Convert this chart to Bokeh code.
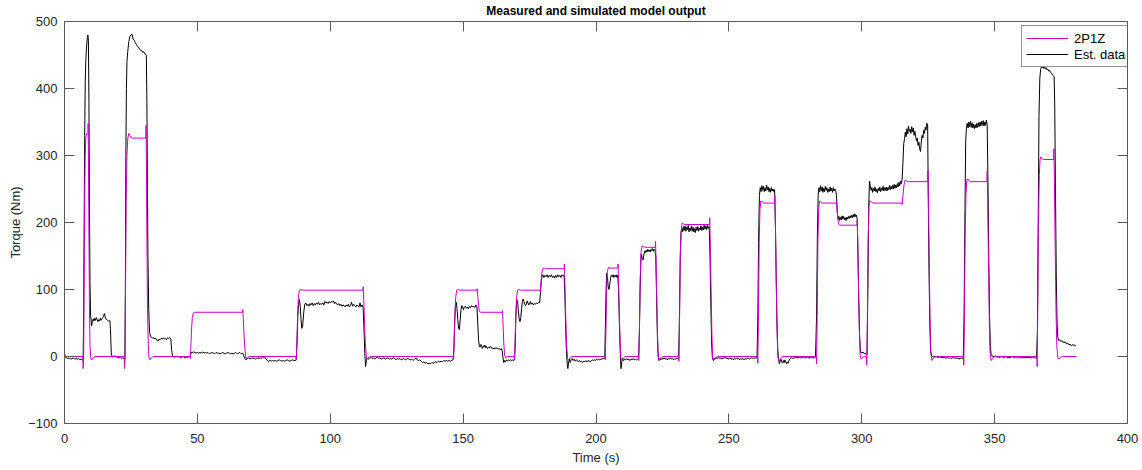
from bokeh.plotting import figure
from bokeh.models import Range1d, LinearAxis, FixedTicker, Legend, LegendItem, CustomJSTickFormatter
from bokeh.embed import file_html
from bokeh.resources import INLINE

# ---------------- data ----------------
x_ticks = [0, 50, 100, 150, 200, 250, 300, 350, 400]
y_ticks = [-100, 0, 100, 200, 300, 400, 500]
title_text = "Measured and simulated model output"
x_label = "Time (s)"
y_label = "Torque (Nm)"
series_names = ["2P1Z", "Est. data"]

# simulated model output (2P1Z): (time, torque)
sim_a = [(0, 4), (0.3, 0), (6.9, 0), (7.0, -18), (7.2, -5), (7.4, 120), (7.6, 240), (7.8, 300), (8.0, 325), (8.3, 333),
         (8.6, 332), (8.85, 333), (8.9, 348), (9.0, 300), (9.2, 180), (9.4, 70), (9.6, 15), (9.9, -3), (10.3, -5), (10.8, -2), (11.5, 0),
         (22.5, 0), (22.6, -18), (22.8, -5), (23.0, 120), (23.2, 230), (23.5, 300), (23.8, 325), (24.2, 333), (24.6, 330), (25.0, 327),
         (25.5, 326), (30.6, 326), (30.7, 345), (30.8, 300), (31.0, 180), (31.2, 80), (31.5, 20), (31.8, -2), (32.2, -5), (32.7, -2), (33.5, 0),
         (47.2, 0), (47.3, -3), (47.5, 10), (47.8, 40), (48.1, 58), (48.5, 65), (49.0, 66), (67.0, 66), (67.1, 70), (67.3, 55), (67.6, 30),
         (67.9, 10), (68.3, -3), (68.8, -2), (69.5, 0),
         (87.1, 0), (87.2, -4), (87.4, 15), (87.7, 60), (88.0, 88), (88.4, 99), (88.9, 100), (89.5, 99), (112.3, 99), (112.4, 104),
         (112.6, 85), (112.9, 50), (113.2, 20), (113.6, -2), (114.0, -3), (114.6, -1), (115.5, 0)]
sim_b = [(146.3, 0), (146.4, -4), (146.6, 15), (146.9, 60), (147.2, 88), (147.6, 99), (148.1, 100), (148.7, 99), (155.2, 99),
         (155.3, 101), (155.5, 92), (155.8, 76), (156.1, 68), (156.5, 66), (164.7, 66), (164.8, 69), (165.0, 50), (165.3, 20), (165.6, 2),
         (166.0, -2), (166.6, 0),
         (169.2, 0), (169.3, -4), (169.5, 15), (169.8, 60), (170.1, 88), (170.5, 99), (171.0, 100), (171.6, 99), (178.9, 99), (179.0, 97),
         (179.3, 110), (179.6, 124), (180.0, 131), (180.5, 132), (181.0, 131), (188.0, 131), (188.1, 138), (188.3, 110), (188.6, 60),
         (188.9, 20), (189.3, -3), (189.7, -5), (190.3, -2), (191.0, 0),
         (203.4, 0), (203.5, -5), (203.7, 30), (204.0, 100), (204.3, 128), (204.7, 133), (205.2, 132), (208.2, 132), (208.3, 138),
         (208.5, 110), (208.8, 60), (209.1, 20), (209.4, -3), (209.8, -5), (210.4, -2), (211.0, 0),
         (216.0, 0), (216.1, -6), (216.3, 30), (216.6, 110), (216.9, 155), (217.3, 165), (217.8, 164), (218.5, 163), (222.3, 163),
         (222.4, 172), (222.6, 140), (222.9, 80), (223.2, 25), (223.5, -3), (223.9, -5), (224.5, -2), (225.2, 0),
         (231.1, 0), (231.2, -7), (231.4, 40), (231.7, 140), (232.0, 185), (232.4, 199), (232.9, 198), (233.5, 197), (242.7, 197),
         (242.8, 207), (243.0, 170), (243.3, 100), (243.6, 35), (243.9, -3), (244.3, -6), (244.9, -2), (245.6, 0)]
sim_c = [(260.8, 0), (260.9, -10), (261.1, 50), (261.4, 170), (261.7, 220), (262.0, 232), (262.5, 231), (263.2, 229), (267.2, 229),
         (267.3, 240), (267.5, 200), (267.8, 120), (268.1, 45), (268.4, 0), (268.8, -7), (269.4, -3), (270.2, 0),
         (282.9, 0), (283.0, -11), (283.2, 50), (283.5, 170), (283.8, 220), (284.1, 232), (284.6, 231), (285.3, 229), (290.4, 229),
         (290.5, 232), (290.7, 222), (291.0, 205), (291.4, 197), (291.8, 196), (298.2, 196), (298.3, 204), (298.5, 170), (298.8, 100),
         (299.1, 40), (299.4, 2), (299.8, -4), (300.4, -1), (301.0, 0), (301.8, 0), (301.9, -13), (302.1, 50), (302.4, 170), (302.7, 222),
         (303.0, 233), (303.5, 231), (304.2, 229), (315.1, 229), (315.2, 227), (315.5, 240), (315.9, 256), (316.3, 263), (316.8, 262),
         (317.5, 261), (324.8, 261), (324.9, 277), (325.1, 230), (325.4, 140), (325.7, 55), (326.0, 5), (326.4, -6), (327.0, -2), (327.8, 0),
         (338.3, 0), (338.4, -13), (338.6, 50), (338.9, 180), (339.2, 240), (339.5, 262), (339.9, 265), (340.5, 262), (341.2, 261),
         (347.1, 261), (347.2, 277), (347.4, 230), (347.7, 140), (348.0, 55), (348.3, 5), (348.7, -6), (349.3, -2), (350.1, 0),
         (365.9, 0), (366.0, -15), (366.2, 60), (366.5, 200), (366.8, 270), (367.1, 294), (367.4, 298), (367.9, 295), (368.6, 294),
         (372.2, 294), (372.3, 310), (372.5, 260), (372.8, 160), (373.1, 70), (373.4, 15), (373.8, -2), (374.2, -4), (374.8, -1),
         (375.6, 0), (380.8, 0)]

# measured (estimation) data: (time, torque)
est_a = [(0, 4), (0.3, -1), (0.8, -2), (1.3, -3), (1.8, -2), (2.3, -4), (2.8, -3), (3.3, -2), (3.8, -4), (4.3, -3), (4.8, -4),
         (5.3, -3), (5.8, -5), (6.3, -4), (6.8, -5), (7.0, -6),
         (7.2, 60), (7.4, 200), (7.6, 330), (7.8, 410), (8.0, 440), (8.3, 462), (8.6, 476), (8.8, 480), (9.0, 472), (9.2, 380),
         (9.4, 220), (9.6, 110), (9.8, 62), (10.0, 56), (10.2, 46), (10.5, 52), (10.8, 56), (11.1, 53), (11.4, 57), (11.7, 54),
         (12.0, 58), (12.3, 55), (12.6, 52), (12.9, 55), (13.2, 53), (13.5, 57), (13.8, 54), (14.1, 56), (14.4, 58), (14.7, 60),
         (15.0, 64), (15.3, 59), (15.6, 56), (15.9, 55), (16.2, 54), (16.5, 53), (16.8, 54), (17.1, 53), (17.3, 40), (17.6, 5),
         (17.9, 0), (18.3, -1), (18.8, 1), (19.3, 0), (19.8, -1), (20.3, -2), (20.8, -1), (21.3, -3), (21.8, -2), (22.3, -3), (22.7, -4),
         (22.9, 100), (23.1, 300), (23.3, 400), (23.5, 440), (23.8, 455), (24.2, 470), (24.6, 478), (25.0, 480), (25.4, 481),
         (25.8, 474), (26.2, 472), (26.6, 469), (27.0, 466), (27.4, 463), (27.8, 462), (28.2, 459), (28.6, 457), (29.0, 457),
         (29.4, 454), (29.8, 455), (30.2, 452), (30.6, 451), (30.8, 449), (31.0, 380), (31.2, 260), (31.4, 150), (31.7, 70),
         (32.0, 36), (32.4, 30), (32.8, 29), (33.2, 27), (33.6, 28), (34.0, 26), (34.4, 27), (34.8, 24), (35.2, 23), (35.6, 26),
         (36.0, 25), (36.4, 27), (36.8, 26), (37.2, 28), (37.6, 26), (38.0, 27), (38.4, 25), (38.8, 28), (39.2, 27), (39.6, 28),
         (40.0, 27), (40.3, 10), (40.6, 2), (41.0, 0), (41.5, -1), (42.0, 1), (42.5, -1), (43.0, 0), (43.5, -1), (44.0, -2),
         (44.5, 0), (45.0, -1), (45.5, -2), (46.0, -1), (46.5, -1), (47.0, 0), (47.3, 1)]
est_b = [(47.6, 6), (48.0, 5), (48.5, 7), (49.0, 6), (49.5, 5), (50.0, 6), (50.5, 5), (51, 6), (51.5, 5), (52, 7), (52.5, 5),
         (53, 6), (53.5, 5), (54, 6), (54.5, 4), (55, 5), (55.5, 6), (56, 5), (56.5, 4), (57, 6), (57.5, 5), (58, 5), (58.5, 4),
         (59, 5), (59.5, 6), (60, 5), (60.5, 4), (61, 5), (61.5, 6), (62, 5), (62.5, 4), (63, 5), (63.5, 4), (64, 5), (64.5, 6),
         (65, 4), (65.5, 5), (66, 6), (66.5, 4), (67.0, 5), (67.4, 2), (67.8, -3), (68.3, -5), (68.8, -3), (69.3, -2), (69.8, -4),
         (70.3, -2), (70.8, -3), (71.3, -2), (71.8, -4), (72.3, -3), (72.8, -2), (73.3, -3), (73.8, -2), (74.3, -3), (74.8, -1),
         (75.3, -2), (75.8, -3), (76.3, -6), (76.8, -7), (77.3, -6), (77.8, -7), (78.3, -6), (78.8, -7), (79.3, -6), (79.8, -7),
         (80.3, -6), (80.8, -5), (81.3, -6), (81.8, -7), (82.3, -6), (82.8, -7), (83.3, -6), (83.8, -5), (84.3, -6), (84.8, -7),
         (85.3, -6), (85.8, -5), (86.3, -6), (86.8, -6), (87.2, -5),
         (87.5, 20), (87.8, 60), (88.1, 80), (88.4, 85), (88.7, 75), (89.0, 55), (89.3, 42), (89.6, 45), (90.0, 65), (90.4, 78),
         (90.8, 80), (91.2, 76), (91.6, 78), (92.0, 75), (92.4, 79), (92.8, 77), (93.2, 80), (93.6, 76), (94.0, 79), (94.4, 77),
         (94.8, 80), (95.2, 78), (95.6, 81), (96.0, 77), (96.4, 79), (96.8, 78), (97.2, 80), (97.6, 77), (98.0, 82), (98.4, 80),
         (98.8, 81), (99.2, 79), (99.6, 82), (100.0, 80), (100.4, 82), (100.8, 81), (101.2, 83), (101.6, 79), (102.0, 81),
         (102.4, 78), (102.8, 77), (103.2, 79), (103.6, 76), (104.0, 78), (104.4, 75), (104.8, 77), (105.2, 76), (105.6, 74),
         (106.0, 77), (106.4, 75), (106.8, 78), (107.2, 74), (107.6, 76), (108.0, 81), (108.4, 75), (108.8, 78), (109.2, 76),
         (109.6, 74), (110.0, 77), (110.4, 75), (110.8, 74), (111.2, 80), (111.6, 74), (112.0, 77), (112.4, 73), (112.7, 40),
         (113.0, 5), (113.3, -15), (113.6, -6), (113.9, -2), (114.3, -4), (114.7, -3), (115.2, -1), (115.7, -3), (116.2, -2),
         (116.7, -4), (117.2, -2), (117.7, -1), (118.2, -3), (118.7, -2), (119.2, -4), (119.7, -3), (120.2, -2), (120.7, -4),
         (121.2, -3), (121.7, -2), (122.2, -4), (122.7, -3), (123.2, -4), (123.7, -2), (124.2, -3), (124.7, -5), (125.2, -3),
         (125.7, -4), (126.2, -3), (126.7, -5), (127.2, -4), (127.7, -3), (128.2, -5), (128.7, -4), (129.2, -3), (129.7, -4),
         (130.2, -5), (130.7, -4), (131.2, -6), (131.7, -4), (132.2, -2), (132.7, -5), (133.2, -6), (133.7, -5), (134.2, -7),
         (134.7, -9), (135.2, -8), (135.7, -10), (136.2, -9), (136.7, -11), (137.2, -10), (137.7, -11), (138.2, -9), (138.7, -10),
         (139.2, -9), (139.7, -8), (140.2, -9), (140.7, -7), (141.2, -8), (141.7, -7), (142.2, -8), (142.7, -6), (143.2, -7),
         (143.7, -6), (144.2, -7), (144.7, -6), (145.2, -7), (145.7, -6), (146.2, -5)]
est_c = [(146.5, 10), (146.8, 50), (147.1, 75), (147.4, 81), (147.7, 72), (148.0, 55), (148.3, 42), (148.6, 40), (148.9, 55),
         (149.2, 70), (149.5, 76), (149.8, 74), (150.1, 70), (150.4, 73), (150.8, 75), (151.2, 72), (151.6, 74), (152.0, 71),
         (152.4, 75), (152.8, 73), (153.2, 76), (153.6, 74), (154.0, 75), (154.4, 73), (154.8, 77), (155.2, 74), (155.5, 50),
         (155.8, 25), (156.1, 15), (156.4, 14), (156.7, 18), (157.0, 15), (157.3, 12), (157.6, 16), (157.9, 14), (158.2, 17),
         (158.5, 13), (158.8, 15), (159.2, 12), (159.6, 14), (160.0, 13), (160.4, 15), (160.8, 12), (161.2, 13), (161.6, 11),
         (162.0, 13), (162.4, 12), (162.8, 13), (163.2, 11), (163.6, 12), (164.0, 10), (164.4, 12), (164.7, 8), (165.0, -2),
         (165.3, -9), (165.6, -6), (165.9, -8), (166.3, -5), (166.7, -7), (167.1, -5), (167.5, -6), (167.9, -5), (168.3, -6),
         (168.7, -5), (169.1, -6), (169.4, -4),
         (169.6, 20), (169.9, 65), (170.2, 85), (170.5, 82), (170.8, 68), (171.1, 56), (171.4, 52), (171.7, 58), (172.0, 72),
         (172.3, 82), (172.6, 86), (172.9, 82), (173.2, 78), (173.5, 76), (173.8, 78), (174.1, 83), (174.4, 80), (174.7, 77),
         (175.0, 79), (175.3, 82), (175.6, 78), (176.0, 80), (176.4, 77), (176.8, 79), (177.2, 78), (177.6, 80), (178.0, 79),
         (178.4, 81), (178.8, 80), (179.1, 95), (179.4, 112), (179.7, 120), (180.0, 122), (180.4, 118), (180.8, 121), (181.2, 119),
         (181.6, 122), (182.0, 118), (182.4, 121), (182.8, 119), (183.2, 122), (183.6, 118), (184.0, 120), (184.4, 117),
         (184.8, 121), (185.2, 118), (185.6, 122), (186.0, 119), (186.4, 121), (186.8, 118), (187.2, 122), (187.6, 120),
         (188.0, 121), (188.3, 90), (188.6, 40), (188.9, 5), (189.2, -12), (189.4, -18), (189.7, -8), (190.0, -4), (190.3, -9),
         (190.6, -5), (191.0, -3), (191.4, -6), (191.8, -4), (192.2, -7), (192.6, -5), (193.0, -6), (193.4, -8), (193.8, -6),
         (194.2, -8), (194.6, -7), (195.0, -9), (195.4, -7), (195.8, -8), (196.2, -6), (196.6, -8), (197.0, -7), (197.4, -6),
         (197.8, -8), (198.2, -7), (198.6, -5), (199.0, -6), (199.4, -5), (199.8, -6), (200.2, -4), (200.6, -5), (201.0, -4),
         (201.4, -5), (201.8, -4), (202.2, -4), (202.6, -3), (203.0, -3), (203.3, -2),
         (203.5, 40), (203.8, 100), (204.0, 124), (204.3, 118), (204.6, 104), (204.9, 100), (205.2, 108), (205.5, 118), (205.8, 121),
         (206.1, 119), (206.4, 122), (206.7, 118), (207.0, 121), (207.3, 119), (207.6, 122), (207.9, 118), (208.2, 121), (208.5, 100),
         (208.8, 50), (209.1, 10), (209.4, -18), (209.7, -8), (210.0, -3), (210.4, -6), (210.8, -4), (211.2, -5), (211.6, -3),
         (212.0, -5), (212.4, -4), (212.8, -6), (213.2, -4), (213.6, -5), (214.0, -3), (214.4, -5), (214.8, -4), (215.2, -5),
         (215.6, -4), (216.0, -3), (216.3, 30), (216.6, 100), (216.9, 145), (217.1, 153), (217.4, 146), (217.7, 144), (218.0, 152),
         (218.3, 157), (218.6, 155), (218.9, 159), (219.2, 156), (219.5, 160), (219.8, 157), (220.1, 159), (220.4, 156), (220.7, 160),
         (221.0, 158), (221.3, 161), (221.6, 157), (221.9, 160), (222.2, 158), (222.5, 150), (222.8, 90), (223.1, 30), (223.4, 0),
         (223.7, -6), (224.0, -3), (224.4, -5), (224.8, -3), (225.2, -4), (225.6, -2), (226.0, -4), (226.4, -3), (226.8, -5),
         (227.2, -3), (227.6, -4), (228.0, -2), (228.4, -4), (228.8, -3), (229.2, -5), (229.6, -3), (230.0, -4), (230.4, -3),
         (230.8, -3), (231.1, -2)]
est_d = [(231.4, 60), (231.7, 150), (232.0, 185), (232.3, 192), (232.6, 186), (232.9, 194), (233.2, 188), (233.5, 195), (233.8, 187),
         (234.1, 193), (234.4, 189), (234.7, 196), (235.0, 186), (235.3, 192), (235.6, 188), (235.9, 195), (236.2, 187), (236.5, 193),
         (236.8, 186), (237.1, 191), (237.4, 185), (237.7, 193), (238.0, 188), (238.3, 194), (238.6, 187), (238.9, 192), (239.2, 189),
         (239.5, 195), (239.8, 188), (240.1, 193), (240.4, 189), (240.7, 196), (241.0, 190), (241.3, 195), (241.6, 189), (241.9, 196),
         (242.2, 191), (242.6, 194), (242.9, 150), (243.2, 80), (243.5, 20), (243.8, -2), (244.2, -6), (244.5, -2), (244.9, -4),
         (245.3, -2), (245.7, -3), (246.1, -1), (246.5, -3), (246.9, -2), (247.3, -4), (247.7, -2), (248.1, -3), (248.5, -1),
         (248.9, -3), (249.3, -2), (249.7, -4), (250.1, -3), (250.5, -2), (250.9, -4), (251.3, -3), (251.7, -5), (252.1, -3),
         (252.5, -4), (252.9, -2), (253.3, -4), (253.7, -3), (254.1, -5), (254.5, -3), (254.9, -4), (255.3, -3), (255.7, -5),
         (256.1, -3), (256.5, -4), (256.9, -3), (257.3, -2), (257.7, -4), (258.1, -3), (258.5, -2), (258.9, -3), (259.3, -2),
         (259.7, -3), (260.1, -2), (260.6, -2),
         (260.9, 60), (261.2, 180), (261.5, 240), (261.8, 252), (262.1, 246), (262.4, 255), (262.7, 248), (263.0, 254), (263.3, 246),
         (263.6, 252), (263.9, 247), (264.2, 256), (264.5, 249), (264.8, 253), (265.1, 246), (265.4, 251), (265.7, 245), (266.0, 252),
         (266.3, 247), (266.6, 250), (266.9, 246), (267.2, 249), (267.5, 200), (267.8, 120), (268.1, 50), (268.4, 10), (268.7, -5),
         (269.0, -11), (269.3, -7), (269.6, -4), (269.9, -8), (270.2, -10), (270.5, -6), (270.8, -9), (271.1, -5), (271.4, -8),
         (271.7, -11), (272.0, -8), (272.3, -10), (272.6, -6), (272.9, -4), (273.2, -3), (273.6, -2), (274.0, -3), (274.4, -2),
         (274.8, -2), (275.2, -1), (275.6, -2), (276.0, -2), (276.5, -1), (277.0, -2), (277.5, -2), (278.0, -1), (278.5, -2),
         (279.0, -2), (279.5, -1), (280.0, -2), (280.5, -2), (281.0, -1), (281.5, -2), (282.0, -2), (282.6, -1),
         (283.0, 60), (283.3, 180), (283.6, 240), (283.9, 252), (284.2, 246), (284.5, 255), (284.8, 247), (285.1, 253), (285.4, 245),
         (285.7, 251), (286.0, 246), (286.3, 254), (286.6, 248), (286.9, 252), (287.2, 245), (287.5, 250), (287.8, 246), (288.1, 253),
         (288.4, 247), (288.7, 251), (289.0, 245), (289.3, 252), (289.6, 247), (289.9, 250), (290.2, 248), (290.5, 240), (290.8, 215),
         (291.1, 205), (291.4, 209), (291.7, 203), (292.0, 208), (292.3, 204), (292.6, 210), (292.9, 205), (293.2, 209), (293.5, 204),
         (293.8, 207), (294.1, 203), (294.4, 208), (294.7, 205), (295.0, 209), (295.3, 206), (295.6, 210), (295.9, 207), (296.2, 211),
         (296.5, 207), (296.8, 212), (297.1, 208), (297.4, 213), (297.7, 209), (298.0, 211), (298.3, 205), (298.6, 150), (298.9, 80),
         (299.2, 30), (299.5, 8), (299.8, 5), (300.1, 7), (300.4, 5), (300.7, 6), (301.0, 4), (301.3, 5), (301.6, 3)]
est_e = [(302.0, 3), (302.3, 100), (302.6, 220), (302.9, 262), (303.2, 255), (303.5, 248), (303.8, 252), (304.1, 245), (304.4, 251),
         (304.7, 247), (305.0, 253), (305.3, 246), (305.6, 250), (305.9, 244), (306.2, 251), (306.5, 247), (306.8, 253), (307.1, 246),
         (307.4, 251), (307.7, 248), (308.0, 254), (308.3, 247), (308.6, 252), (308.9, 248), (309.2, 253), (309.5, 247), (309.8, 252),
         (310.1, 249), (310.4, 255), (310.7, 249), (311.0, 254), (311.3, 250), (311.6, 256), (311.9, 250), (312.2, 257), (312.5, 251),
         (312.8, 256), (313.1, 252), (313.4, 258), (313.7, 253), (314.0, 260), (314.3, 255), (314.6, 262), (314.9, 258), (315.2, 265),
         (315.5, 290), (315.8, 318), (316.1, 325), (316.4, 335), (316.7, 328), (317.0, 340), (317.3, 332), (317.6, 344), (317.9, 336),
         (318.2, 339), (318.5, 333), (318.8, 343), (319.1, 335), (319.4, 341), (319.7, 330), (320.0, 336), (320.3, 328), (320.6, 322),
         (320.9, 326), (321.2, 315), (321.5, 320), (321.8, 310), (322.1, 306), (322.4, 320), (322.7, 330), (323.0, 326), (323.3, 338),
         (323.6, 333), (323.9, 342), (324.2, 338), (324.5, 348), (324.8, 346), (325.0, 250), (325.3, 130), (325.6, 50), (325.9, 10),
         (326.2, 2), (326.6, 0), (327.0, -1), (327.4, 1), (327.8, -1), (328.2, 0), (328.6, -2), (329.0, -1), (329.4, 0), (329.8, -2),
         (330.2, -1), (330.6, -2), (331.0, -1), (331.4, -2), (331.8, -3), (332.2, -1), (332.6, -2), (333.0, -3), (333.4, -2),
         (333.8, -3), (334.2, -2), (334.6, -1), (335.0, -3), (335.4, -2), (335.8, -3), (336.2, -2), (336.6, -4), (337.0, -3),
         (337.4, -2), (337.8, -3), (338.2, -3),
         (338.5, 60), (338.8, 200), (339.1, 320), (339.4, 342), (339.7, 348), (340.0, 341), (340.3, 350), (340.6, 343), (340.9, 351),
         (341.2, 342), (341.5, 349), (341.8, 341), (342.1, 347), (342.4, 340), (342.7, 346), (343.0, 341), (343.3, 348), (343.6, 342),
         (343.9, 349), (344.2, 343), (344.5, 350), (344.8, 344), (345.1, 351), (345.4, 345), (345.7, 352), (346.0, 344), (346.3, 350),
         (346.6, 345), (346.9, 353), (347.2, 345), (347.5, 260), (347.8, 150), (348.1, 60), (348.4, 15), (348.7, 3), (349.0, 1),
         (349.4, 0), (349.8, -1), (350.2, 1), (350.6, 0), (351.0, -1), (351.4, 0), (351.8, -2), (352.2, -1), (352.6, 0), (353.0, -1),
         (353.4, -2), (353.8, -1), (354.2, 0), (354.6, -1), (355.0, -2), (355.4, -1), (355.8, -2), (356.2, -1), (356.6, 0),
         (357.0, -1), (357.4, -2), (357.8, -1), (358.2, -2), (358.6, -1), (359.0, -2), (359.4, -1), (359.8, -2), (360.2, -1),
         (360.6, -2), (361.0, -1), (361.4, -2), (361.8, -1), (362.2, -2), (362.6, -1), (363.0, -2), (363.4, -1), (363.8, -2),
         (364.2, -1), (364.6, -2), (365.0, -1), (365.4, -2), (365.8, -2),
         (366.1, 40), (366.4, 200), (366.7, 360), (367.0, 415), (367.3, 428), (367.6, 432), (367.9, 431), (368.2, 433), (368.5, 430),
         (368.8, 432), (369.1, 429), (369.4, 431), (369.7, 428), (370.0, 429), (370.3, 426), (370.6, 427), (370.9, 425), (371.2, 424),
         (371.5, 422), (371.8, 420), (372.1, 419), (372.4, 418), (372.6, 380), (372.9, 250), (373.2, 120), (373.5, 50), (373.8, 28),
         (374.1, 24), (374.4, 25), (374.7, 23), (375.0, 24), (375.3, 22), (375.6, 23), (375.9, 21), (376.2, 22), (376.5, 20),
         (376.8, 21), (377.1, 19), (377.4, 20), (377.7, 18), (378.0, 19), (378.3, 17), (378.6, 18), (378.9, 16), (379.2, 17),
         (379.5, 18), (379.8, 16), (380.1, 17), (380.4, 16), (380.7, 17)]

sim_pts = sim_a + sim_b + sim_c
est_pts = est_a + est_b + est_c + est_d + est_e
sim_t = [t for t, _ in sim_pts]
sim_v = [v for _, v in sim_pts]
est_t = [t for t, _ in est_pts]
est_v = [v for _, v in est_pts]

# ---------------- styling ----------------
FONT = "Liberation Sans"
AX = "#262626"
LINE_AX = "#5a5a5a"
MAGENTA = "#CC00CC"

p = figure(frame_width=1063, frame_height=402, output_backend="svg", toolbar_location=None,
           x_range=Range1d(0, 400), y_range=Range1d(-100, 500),
           min_border_left=64, min_border_right=12, min_border_top=21, min_border_bottom=38,
           background_fill_color="white", border_fill_color="white")
p.grid.visible = False
p.outline_line_color = LINE_AX
p.outline_line_width = 1

blank = CustomJSTickFormatter(code="return ''")


def style_axis(ax, ticks, show_labels):
    ax.ticker = FixedTicker(ticks=ticks)
    ax.axis_line_color = LINE_AX
    ax.axis_line_width = 1
    ax.major_tick_line_color = LINE_AX
    ax.major_tick_line_width = 1
    ax.major_tick_in = 10
    ax.major_tick_out = 0
    ax.minor_tick_in = 0
    ax.minor_tick_out = 0
    ax.major_label_text_font = FONT
    ax.major_label_text_color = AX
    ax.major_label_text_font_size = "13px"
    if not show_labels:
        ax.formatter = blank
        ax.major_label_standoff = 0
    ax.axis_label_text_font = FONT
    ax.axis_label_text_font_style = "normal"
    ax.axis_label_text_font_size = "13px"
    ax.axis_label_text_color = AX


xa = p.xaxis[0]
ya = p.yaxis[0]
style_axis(xa, x_ticks, True)
style_axis(ya, y_ticks, True)
xa.major_label_standoff = 10
xa.axis_label = x_label
xa.axis_label_standoff = 4
ya.major_label_standoff = 7
ya.axis_label = y_label
ya.axis_label_standoff = 2

# top axis: mirrored ticks, and carries the chart title as its label
top = LinearAxis()
style_axis(top, x_ticks, False)
top.axis_label = title_text
top.axis_label_text_font_style = "bold"
top.axis_label_text_font_size = "12px"
top.axis_label_text_color = "black"
top.axis_label_standoff = 4
p.add_layout(top, "above")

right = LinearAxis()
style_axis(right, y_ticks, False)
p.add_layout(right, "right")

r_est = p.line(est_t, est_v, line_color="black", line_width=1)
r_sim = p.line(sim_t, sim_v, line_color=MAGENTA, line_width=1)

legend = Legend(items=[LegendItem(label=series_names[0], renderers=[r_sim]),
                       LegendItem(label=series_names[1], renderers=[r_est])],
                location=(957, 356), margin=0, padding=4, spacing=0,
                glyph_width=42, glyph_height=16, label_height=16, label_standoff=6,
                label_text_font=FONT, label_text_font_size="13px", label_text_color="black",
                border_line_color=AX, border_line_width=1, background_fill_color="white",
                background_fill_alpha=1)
p.add_layout(legend)

open("out.html", "w").write(file_html(p, INLINE))
